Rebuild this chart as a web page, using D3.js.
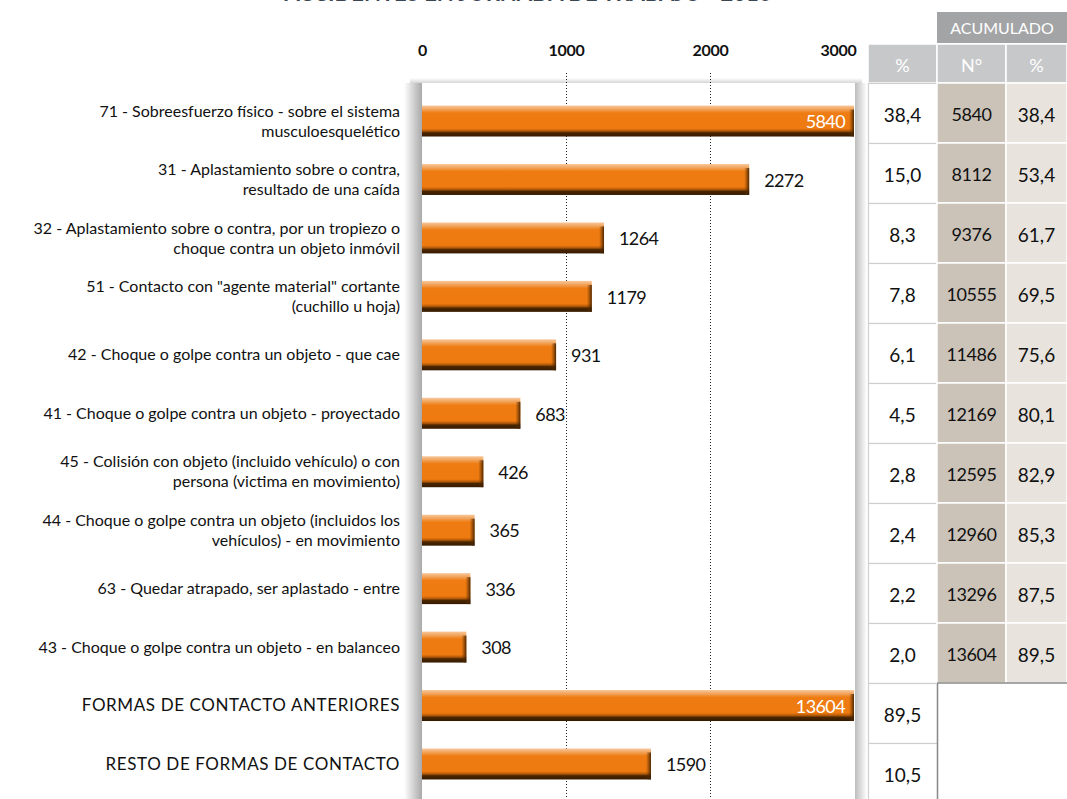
<!DOCTYPE html>
<html>
<head>
<meta charset="utf-8">
<script src="https://cdn.jsdelivr.net/npm/d3@7"></script>
<style>
  body { margin: 0; background: #fff; }
  svg text { font-family: Lato, "Open Sans", sans-serif; }
</style>
</head>
<body>
<script>
'use strict';

// chart data
const categories = [
  ["71 - Sobreesfuerzo físico - sobre el sistema", "musculoesquelético"],
  ["31 - Aplastamiento sobre o contra,", "resultado de una caída"],
  ["32 - Aplastamiento sobre o contra, por un tropiezo o", "choque contra un objeto inmóvil"],
  ["51 - Contacto con \"agente material\" cortante", "(cuchillo u hoja)"],
  ["42 - Choque o golpe contra un objeto - que cae"],
  ["41 - Choque o golpe contra un objeto - proyectado"],
  ["45 - Colisión con objeto (incluido vehículo) o con", "persona (victima en movimiento)"],
  ["44 - Choque o golpe contra un objeto (incluidos los", "vehículos) - en movimiento"],
  ["63 - Quedar atrapado, ser aplastado - entre"],
  ["43 - Choque o golpe contra un objeto - en balanceo"],
  ["FORMAS DE CONTACTO ANTERIORES"],
  ["RESTO DE FORMAS DE CONTACTO"]
];
const values = [5840, 2272, 1264, 1179, 931, 683, 426, 365, 336, 308, 13604, 1590];
const percents = ["38,4", "15,0", "8,3", "7,8", "6,1", "4,5", "2,8", "2,4", "2,2", "2,0", "89,5", "10,5"];
const accumN = ["5840", "8112", "9376", "10555", "11486", "12169", "12595", "12960", "13296", "13604"];
const accumPct = ["38,4", "53,4", "61,7", "69,5", "75,6", "80,1", "82,9", "85,3", "87,5", "89,5"];
const xTicks = [0, 1000, 2000, 3000];
const title = "ACCIDENTES EN JORNADA DE TRABAJO - 2016";

const width = 1067, height = 799;

const svg = d3.select('body').append('svg')
  .attr('width', width)
  .attr('height', height);

const defs = svg.append('defs');

// bar gradient (vertical, glossy top, dark bottom)
const barGrad = defs.append('linearGradient')
  .attr('id', 'barGrad').attr('x1', 0).attr('y1', 0).attr('x2', 0).attr('y2', 1);
[[0, '#f7c89c'], [0.12, '#f2a35a'], [0.24, '#ee7c12'], [0.74, '#ee7a10'],
 [0.82, '#b35a0a'], [0.88, '#4a2600'], [1, '#351a00']].forEach(s => {
  barGrad.append('stop').attr('offset', s[0]).attr('stop-color', s[1]);
});

// right edge bevel of bars
const edgeGrad = defs.append('linearGradient')
  .attr('id', 'edgeGrad').attr('x1', 0).attr('y1', 0).attr('x2', 1).attr('y2', 0);
edgeGrad.append('stop').attr('offset', 0).attr('stop-color', '#6b3500').attr('stop-opacity', 0);
edgeGrad.append('stop').attr('offset', 1).attr('stop-color', '#3a1d00').attr('stop-opacity', 0.9);

// panel shadows
const shadowL = defs.append('linearGradient')
  .attr('id', 'shadowL').attr('x1', 0).attr('y1', 0).attr('x2', 1).attr('y2', 0);
shadowL.append('stop').attr('offset', 0).attr('stop-color', '#ffffff');
shadowL.append('stop').attr('offset', 1).attr('stop-color', '#a9a9a9');

const shadowR = defs.append('linearGradient')
  .attr('id', 'shadowR').attr('x1', 0).attr('y1', 0).attr('x2', 1).attr('y2', 0);
shadowR.append('stop').attr('offset', 0).attr('stop-color', '#bdbdbd');
shadowR.append('stop').attr('offset', 1).attr('stop-color', '#ffffff');

const shadowT = defs.append('linearGradient')
  .attr('id', 'shadowT').attr('x1', 0).attr('y1', 0).attr('x2', 0).attr('y2', 1);
shadowT.append('stop').attr('offset', 0).attr('stop-color', '#ffffff');
shadowT.append('stop').attr('offset', 1).attr('stop-color', '#d6d6d6');

// scales
const x = d3.scaleLinear().domain([0, 3000]).range([422, 854]).clamp(true);
const idx = d3.range(values.length);
const y = d3.scaleBand().domain(idx).range([91.8, 793.2])
  .paddingInner(0.47).paddingOuter(0.235);

// title (cut off at the top edge, as in the original)
svg.append('text')
  .attr('x', 528).attr('y', 1)
  .attr('text-anchor', 'middle')
  .style('font-size', '22px')
  .style('font-weight', 'bold')
  .attr('fill', '#3b4654')
  .text(title);

// panel and shadows
const panelTop = 83;
svg.append('rect').attr('x', 404).attr('y', panelTop).attr('width', 18)
  .attr('height', height - panelTop).attr('fill', 'url(#shadowL)');
svg.append('rect').attr('x', 855).attr('y', panelTop).attr('width', 12)
  .attr('height', height - panelTop).attr('fill', 'url(#shadowR)');
svg.append('rect').attr('x', 410).attr('y', panelTop - 5).attr('width', 452)
  .attr('height', 5).attr('fill', 'url(#shadowT)');
svg.append('rect').attr('x', 422).attr('y', panelTop).attr('width', 433)
  .attr('height', height - panelTop).attr('fill', '#fff');

// gridlines
svg.append('g').selectAll('line')
  .data(xTicks.filter(t => t > 0 && t < 3000))
  .enter().append('line')
  .attr('x1', d => x(d) + 0.5).attr('x2', d => x(d) + 0.5)
  .attr('y1', 73).attr('y2', height)
  .attr('stroke', '#222').attr('stroke-width', 1)
  .attr('stroke-dasharray', '1,2');

// top axis with tick labels
const xAxis = d3.axisTop(x).tickValues(xTicks).tickSize(0).tickFormat(d3.format('d'));
const axisG = svg.append('g').attr('transform', 'translate(0, 59)').call(xAxis);
axisG.select('.domain').remove();
axisG.selectAll('text')
  .style('font-family', 'Lato, sans-serif')
  .style('font-size', '16px')
  .style('font-weight', 'bold')
  .style('letter-spacing', '-0.3px')
  .attr('fill', '#111')
  .attr('text-anchor', d => d === 3000 ? 'end' : 'middle')
  .attr('dx', d => d === 3000 ? '2' : '0');

// bars
const bars = svg.append('g').selectAll('g.bar')
  .data(idx).enter().append('g').attr('class', 'bar');

bars.append('rect')
  .attr('x', x(0))
  .attr('y', i => y(i))
  .attr('width', i => x(values[i]) - x(0))
  .attr('height', y.bandwidth())
  .attr('fill', 'url(#barGrad)');

bars.append('rect')
  .attr('x', i => x(values[i]) - 5)
  .attr('y', i => y(i) + 4)
  .attr('width', 5)
  .attr('height', y.bandwidth() - 4)
  .attr('fill', 'url(#edgeGrad)');

// value labels
bars.append('text')
  .attr('x', i => values[i] > 3000 ? x(3000) - 9 : x(values[i]) + 15)
  .attr('y', i => y(i) + y.bandwidth() / 2 + 1)
  .attr('dy', '0.35em')
  .attr('text-anchor', i => values[i] > 3000 ? 'end' : 'start')
  .attr('fill', i => values[i] > 3000 ? '#fff' : '#111')
  .style('font-size', '18px')
  .style('letter-spacing', '-0.6px')
  .text(i => values[i]);

// category labels (the two summary rows are in capitals and a bit larger)
const isCaps = i => categories[i][0] === categories[i][0].toUpperCase();
const labels = svg.append('g').selectAll('text')
  .data(idx).enter().append('text')
  .attr('text-anchor', 'end')
  .attr('fill', '#111')
  .style('font-size', i => isCaps(i) ? '17px' : '16px')
  .style('letter-spacing', i => isCaps(i) ? '0.6px' : '0px')
  .attr('y', i => y(i) + y.bandwidth() / 2 - (categories[i].length - 1) * 10);

labels.selectAll('tspan')
  .data(i => categories[i])
  .enter().append('tspan')
  .attr('x', 400)
  .attr('dy', (d, j) => j === 0 ? '0.35em' : '20px')
  .text(d => d);

// table
const colX = [868, 937, 1006, 1067];
const rowY = d3.scaleBand().domain(idx).range([83, 803]);

// headers
svg.append('rect').attr('x', colX[1]).attr('y', 12).attr('width', colX[3] - colX[1])
  .attr('height', 31).attr('fill', '#a3a4a6');
svg.append('text').attr('x', (colX[1] + colX[3]) / 2).attr('y', 28).attr('dy', '0.35em')
  .attr('text-anchor', 'middle').attr('fill', '#fff').style('font-size', '16px')
  .text('ACUMULADO');

const headers = ['%', 'N°', '%'];
headers.forEach((h, c) => {
  svg.append('rect').attr('x', colX[c]).attr('y', 44).attr('width', colX[c + 1] - colX[c])
    .attr('height', 39).attr('fill', '#c7c8ca')
    .attr('stroke', '#fff').attr('stroke-width', 1.5);
  svg.append('text').attr('x', (colX[c] + colX[c + 1]) / 2).attr('y', 66).attr('dy', '0.35em')
    .attr('text-anchor', 'middle').attr('fill', '#fff').style('font-size', '18px')
    .text(h);
});

// column 1: percent of total
const tbl = svg.append('g');
tbl.selectAll('rect.c1').data(idx).enter().append('rect')
  .attr('x', colX[0] + 0.5).attr('y', i => rowY(i) + 0.5)
  .attr('width', colX[1] - colX[0]).attr('height', rowY.bandwidth())
  .attr('fill', '#fff').attr('stroke', '#cfcfcf').attr('stroke-width', 1.2);

tbl.selectAll('text.c1').data(idx).enter().append('text')
  .attr('x', (colX[0] + colX[1]) / 2).attr('y', i => rowY(i) + rowY.bandwidth() / 2 + 2)
  .attr('dy', '0.35em').attr('text-anchor', 'middle').attr('fill', '#111')
  .style('font-size', '19px')
  .text(i => percents[i]);

// accumulated columns
const accIdx = d3.range(accumN.length);
tbl.selectAll('rect.c2').data(accIdx).enter().append('rect')
  .attr('x', colX[1]).attr('y', i => rowY(i))
  .attr('width', colX[2] - colX[1]).attr('height', rowY.bandwidth())
  .attr('fill', '#cbc3b8').attr('stroke', '#fff').attr('stroke-width', 1.5);
tbl.selectAll('rect.c3').data(accIdx).enter().append('rect')
  .attr('x', colX[2]).attr('y', i => rowY(i))
  .attr('width', colX[3] - colX[2]).attr('height', rowY.bandwidth())
  .attr('fill', '#e8e4dd').attr('stroke', '#fff').attr('stroke-width', 1.5);

tbl.selectAll('text.c2').data(accIdx).enter().append('text')
  .attr('x', (colX[1] + colX[2]) / 2).attr('y', i => rowY(i) + rowY.bandwidth() / 2 + 2)
  .attr('dy', '0.35em').attr('text-anchor', 'middle').attr('fill', '#111')
  .style('font-size', '18px').style('letter-spacing', '-0.4px')
  .text(i => accumN[i]);
tbl.selectAll('text.c3').data(accIdx).enter().append('text')
  .attr('x', (colX[2] + colX[3]) / 2).attr('y', i => rowY(i) + rowY.bandwidth() / 2 + 2)
  .attr('dy', '0.35em').attr('text-anchor', 'middle').attr('fill', '#111')
  .style('font-size', '19px')
  .text(i => accumPct[i]);

// border below the accumulated block
const lastY = rowY(accumN.length);
svg.append('line').attr('x1', colX[1]).attr('x2', colX[3]).attr('y1', lastY).attr('y2', lastY)
  .attr('stroke', '#8a8a8a').attr('stroke-width', 1.5);
svg.append('line').attr('x1', colX[1] + 0.5).attr('x2', colX[1] + 0.5).attr('y1', lastY).attr('y2', height)
  .attr('stroke', '#8a8a8a').attr('stroke-width', 1.5);
</script>
</body>
</html>
